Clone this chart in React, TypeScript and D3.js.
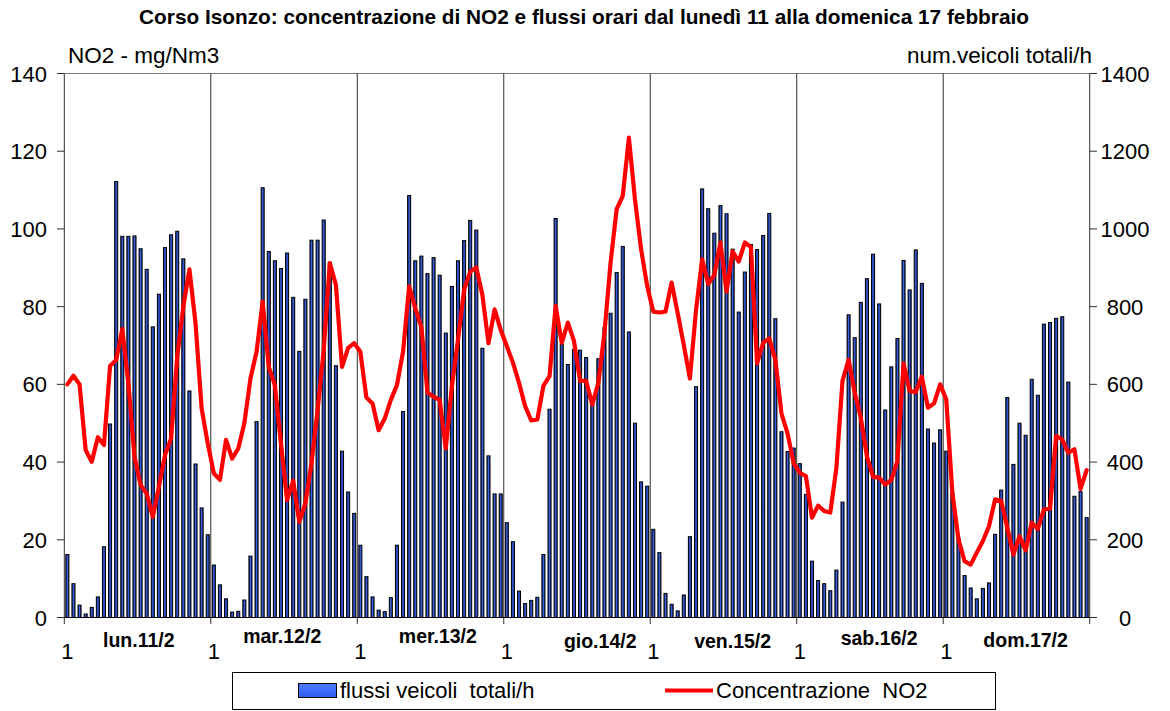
import React from 'react';
import * as d3 from 'd3';

const title = 'Corso Isonzo: concentrazione di NO2 e flussi orari dal lunedì 11 alla domenica 17 febbraio';
const leftAxisTitle = 'NO2 - mg/Nm3';
const rightAxisTitle = 'num.veicoli totali/h';
const legendBars = 'flussi veicoli  totali/h';
const legendLine = 'Concentrazione  NO2';

const dayNames = ['lun.11/2', 'mar.12/2', 'mer.13/2', 'gio.14/2', 'ven.15/2', 'sab.16/2', 'dom.17/2'];
// label position inside each day, in hour units
const dayNamePos = [12.2, 11.7, 13.2, 15.8, 13.5, 13.5, 13.5];

const leftTicks = [0, 20, 40, 60, 80, 100, 120, 140];
const rightTicks = [0, 200, 400, 600, 800, 1000, 1200, 1400];

const veh1 = [162, 87, 32, 9, 26, 53, 182, 498, 1122, 981, 981, 982, 949, 896, 748, 832, 952, 985, 994, 923, 583, 395, 282, 213];
const veh2 = [135, 84, 48, 14, 16, 45, 158, 504, 1106, 942, 918, 898, 938, 824, 685, 819, 971, 971, 1023, 914, 648, 428, 323, 268];
const veh3 = [186, 105, 53, 19, 15, 51, 186, 530, 1086, 918, 930, 885, 926, 881, 732, 852, 918, 970, 1022, 997, 693, 416, 318, 318];
const veh4 = [244, 195, 68, 36, 44, 52, 162, 536, 1027, 703, 651, 690, 688, 669, 560, 666, 746, 783, 888, 955, 735, 500, 349, 338];
const veh5 = [227, 167, 62, 34, 17, 58, 208, 594, 1103, 1052, 989, 1060, 1039, 948, 786, 889, 960, 947, 983, 1040, 769, 478, 427, 436];
const veh6 = [396, 317, 145, 95, 87, 69, 122, 297, 779, 720, 811, 872, 935, 807, 534, 645, 718, 919, 843, 946, 860, 485, 449, 483];
const veh7 = [428, 320, 205, 108, 76, 48, 75, 89, 214, 328, 566, 394, 500, 469, 613, 572, 755, 759, 770, 774, 606, 312, 324, 257];

const no2d1 = [60.0, 62.2, 60.0, 43.1, 40.1, 46.4, 44.4, 64.7, 66.3, 74.2, 60.3, 41.4, 34.1, 31.9, 25.9, 33.6, 41.8, 46.1, 67.1, 80.0, 89.6, 75.7, 53.8, 44.8];
const no2d2 = [37.1, 35.4, 45.7, 40.9, 43.5, 50.0, 61.5, 68.4, 81.3, 64.5, 59.8, 44.8, 30.2, 35.2, 24.6, 29.4, 39.7, 53.4, 68.8, 91.2, 85.6, 64.5, 69.4, 70.6];
const no2d3 = [68.4, 56.6, 55.1, 48.2, 51.2, 56.0, 59.8, 68.4, 85.2, 79.6, 74.8, 57.9, 56.8, 56.0, 43.5, 59.4, 71.4, 84.3, 89.0, 90.1, 83.0, 70.6, 79.3, 74.0];
const no2d4 = [69.9, 65.6, 60.4, 54.4, 50.7, 51.0, 59.6, 62.1, 80.2, 70.7, 75.9, 71.2, 60.9, 60.9, 54.8, 60.4, 73.3, 91.3, 105.1, 108.5, 123.5, 107.6, 94.8, 85.3];
const no2d5 = [78.7, 78.5, 78.7, 86.2, 78.3, 70.1, 61.5, 79.1, 92.2, 85.8, 88.2, 96.5, 83.9, 94.2, 91.6, 96.5, 95.3, 65.4, 70.7, 71.8, 66.3, 52.5, 47.4, 39.7];
const no2d6 = [37.2, 36.4, 25.7, 28.8, 27.4, 27.0, 38.5, 60.9, 66.3, 57.9, 51.4, 41.5, 36.2, 36.0, 34.2, 35.4, 40.3, 65.4, 58.3, 58.0, 62.0, 54.0, 55.1, 60.0];
const no2d7 = [56.1, 32.1, 20.1, 14.5, 13.6, 16.7, 19.7, 23.5, 30.4, 30.0, 23.1, 16.2, 20.9, 17.3, 24.4, 22.8, 27.8, 28.0, 46.7, 45.8, 42.4, 43.3, 33.1, 37.9];

const vehicles = [...veh1, ...veh2, ...veh3, ...veh4, ...veh5, ...veh6, ...veh7];
const no2 = [...no2d1, ...no2d2, ...no2d3, ...no2d4, ...no2d5, ...no2d6, ...no2d7];
const hours = vehicles.map((_, i) => i);

const W = 1170;
const H = 711;
const L = 64.3;
const R = 1089.7;
const T = 73.5;
const B = 617.5;
const FONT = "'Liberation Sans', Arial, sans-serif";

export default function App() {
  const x = d3.scaleBand<number>().domain(hours).range([L, R]).paddingInner(0.5).paddingOuter(0.25);
  const step = x.step();
  const bw = x.bandwidth();
  const yL = d3.scaleLinear().domain([0, 140]).range([B, T]);
  const yR = d3.scaleLinear().domain([0, 1400]).range([B, T]);
  const cx = (i: number) => (x(i) as number) + bw / 2;
  const line = d3.line<number>().x((_, i) => cx(i)).y((d) => yL(d));
  const dayEdges = d3.range(0, 8).map((k) => L + step * 24 * k);
  const dayNameY = [647, 643, 643, 648, 648, 645, 647];

  return (
    <svg width={W} height={H} style={{ position: 'absolute', left: 0, top: 0, background: '#fff' }} fontFamily={FONT}>
      <defs>
        <linearGradient id="barGrad" x1="0" x2="1" y1="0" y2="0">
          <stop offset="0%" stopColor="#111d5c" />
          <stop offset="50%" stopColor="#3a64e8" />
          <stop offset="100%" stopColor="#111d5c" />
        </linearGradient>
        <linearGradient id="legGrad" x1="0" x2="0" y1="0" y2="1">
          <stop offset="0%" stopColor="#4d7dff" />
          <stop offset="100%" stopColor="#2f5ef0" />
        </linearGradient>
      </defs>
      <rect x={0} y={0} width={W} height={H} fill="#fff" />

      <text x={584} y={24} textAnchor="middle" fontWeight="bold" fontSize={20.8} fill="#000">{title}</text>
      <text x={68} y={63} fontSize={22.5} fill="#000">{leftAxisTitle}</text>
      <text x={1092} y={63} textAnchor="end" fontSize={22.5} fill="#000">{rightAxisTitle}</text>

      {/* bars */}
      <g>
        {vehicles.map((v, i) => (
          <rect key={i} x={(x(i) as number)} y={yR(v)} width={bw} height={B - yR(v)} fill="url(#barGrad)" stroke="#000" strokeWidth={1} />
        ))}
      </g>

      {/* top border */}
      <line x1={L} x2={R} y1={T} y2={T} stroke="#7a7a7a" strokeWidth={1} />
      {/* day separators and bottom ticks */}
      {dayEdges.map((xe, k) => (
        <line key={k} x1={xe} x2={xe} y1={T} y2={624} stroke="#303030" strokeWidth={1} />
      ))}
      {/* x axis */}
      <line x1={L} x2={R} y1={B} y2={B} stroke="#000" strokeWidth={1.2} />

      {/* NO2 line */}
      <path d={line(no2) || ''} fill="none" stroke="#ff0000" strokeWidth={4.2} strokeLinejoin="round" strokeLinecap="round" />

      {/* left axis ticks */}
      {leftTicks.map((t) => (
        <g key={'l' + t}>
          <line x1={57} x2={L} y1={yL(t)} y2={yL(t)} stroke="#303030" strokeWidth={1} />
          <text x={47} y={yL(t) + 8} textAnchor="end" fontSize={22} fill="#000">{t}</text>
        </g>
      ))}
      {/* right axis ticks */}
      {rightTicks.map((t) => (
        <g key={'r' + t}>
          <line x1={R} x2={1097} y1={yR(t)} y2={yR(t)} stroke="#303030" strokeWidth={1} />
          <text x={1125} y={yR(t) + 8} textAnchor="middle" fontSize={22} fill="#000">{t}</text>
        </g>
      ))}

      {/* category labels */}
      {dayNames.map((d, k) => (
        <g key={d}>
          <text x={cx(k * 24)} y={659} textAnchor="middle" fontSize={22} fill="#000">1</text>
          <text x={L + step * (k * 24 + dayNamePos[k])} y={dayNameY[k]} textAnchor="middle" fontWeight="bold" fontSize={19.5} fill="#000">{d}</text>
        </g>
      ))}

      {/* legend */}
      <rect x={232.5} y={672.5} width={763} height={37} fill="#fff" stroke="#000" strokeWidth={1} />
      <rect x={298.5} y={683.5} width={38} height={14} fill="url(#legGrad)" stroke="#000" strokeWidth={1} />
      <text x={340} y={698} fontSize={22} fill="#000" style={{ whiteSpace: 'pre' }}>{legendBars}</text>
      <line x1={665} x2={713} y1={690.5} y2={690.5} stroke="#ff0000" strokeWidth={4.2} />
      <text x={716} y={698} fontSize={22} fill="#000" style={{ whiteSpace: 'pre' }}>{legendLine}</text>
    </svg>
  );
}
